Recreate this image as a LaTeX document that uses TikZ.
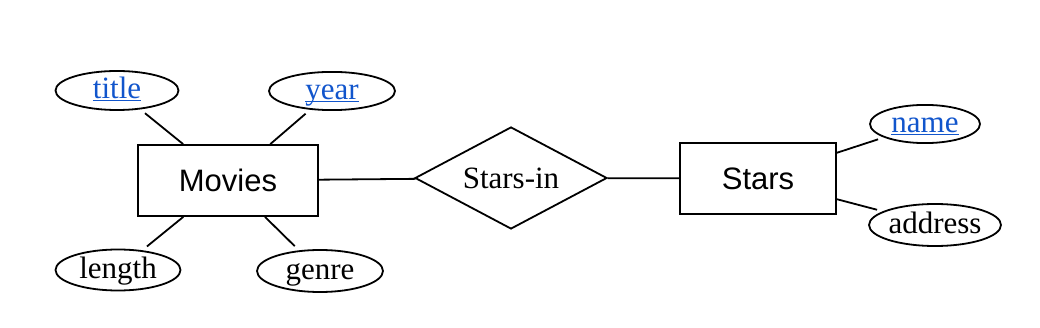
\documentclass[tikz,border=0pt]{standalone}
\usepackage{fontspec}
\setmainfont{Liberation Serif}
\setsansfont{Liberation Sans}
\usepackage{tikz}
\usetikzlibrary{shapes.geometric}
\definecolor{linkblue}{RGB}{17, 85, 204}
\newcommand{\keyattr}[1]{\textcolor{linkblue}{\underline{\smash{#1}}}}

\begin{document}
\begin{tikzpicture}[x=1pt, y=-1pt, line width=1.8pt,
  font=\fontsize{31}{36}\selectfont,
  entity/.style={draw, rectangle, inner sep=0pt, minimum height=71pt,
    font=\fontsize{31}{36}\selectfont\sffamily, text height=22pt, text depth=0pt},
  relship/.style={draw, diamond, shape aspect=1.9, inner sep=0pt, minimum width=192pt,
    minimum height=102pt, text height=22pt, text depth=0pt},
  attrib/.style={draw, ellipse, inner sep=0pt, minimum height=40pt,
    text height=22pt, text depth=5pt},
  attrlink/.style={shorten <=6pt}]
  \useasboundingbox (0,0) rectangle (1040,328);

  \node[entity, minimum width=180pt] (movies) at (228,180.5) {Movies};
  \node[relship] (starsin) at (511,178) {Stars-in};
  \node[entity, minimum width=156pt] (stars) at (758,178.5) {Stars};

  \node[attrib, minimum width=123pt, minimum height=39pt] (title) at (117,90.5) {\keyattr{title}};
  \node[attrib, minimum width=126pt, minimum height=38pt] (year) at (332,91) {\keyattr{year}};
  \node[attrib, minimum width=125pt, minimum height=41pt] (length) at (118,270) {length};
  \node[attrib, minimum width=126pt, minimum height=42pt] (genre) at (320,271) {genre};
  \node[attrib, minimum width=110pt, minimum height=38pt] (name) at (925,124) {\keyattr{name}};
  \node[attrib, minimum width=132pt, minimum height=42pt, inner xsep=-5pt] (address) at (935,225) {address};

  \draw (movies) -- (starsin);
  \draw (starsin) -- (stars);
  \draw[attrlink] (title) -- (movies);
  \draw[attrlink] (year) -- (movies);
  \draw[attrlink] (length) -- (movies);
  \draw[attrlink] (genre) -- (movies);
  \draw[attrlink] (name) -- (stars);
  \draw[attrlink] (address) -- (stars);
\end{tikzpicture}
\end{document}
